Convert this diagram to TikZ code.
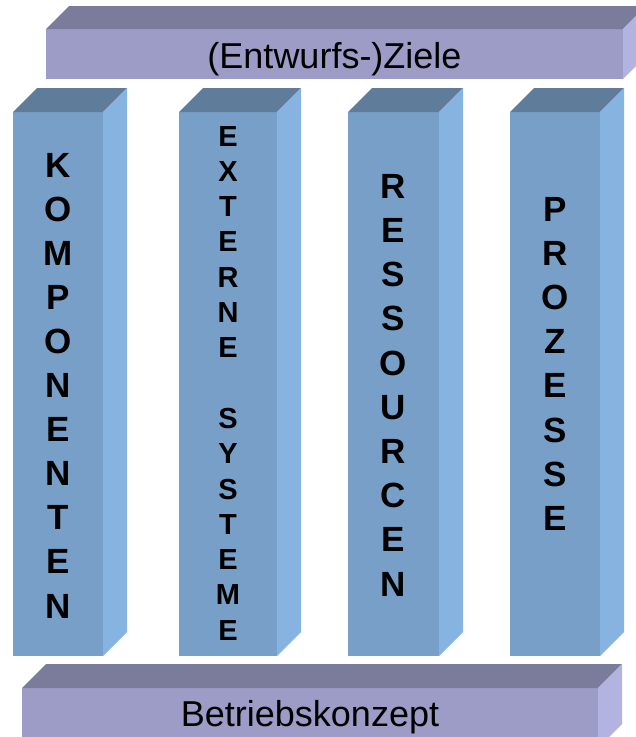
\documentclass[tikz,border=0pt]{standalone}
\usepackage{fontspec}
\setmainfont{Liberation Sans}
\definecolor{barfront}{HTML}{9C9CC6}
\definecolor{bartop}{HTML}{7B7B9B}
\definecolor{barside}{HTML}{B3B3E1}
\definecolor{colfront}{HTML}{779FC8}
\definecolor{coltop}{HTML}{5F7C9A}
\definecolor{colside}{HTML}{87B3E0}
\newcommand\prismfaces[4]{%
  \fill[#3] (#1.north west) -- (#1.north east) -- ++(#2,-#2) -- ([shift={(#2,-#2)}]#1.north west) -- cycle;
  \fill[#4] (#1.north east) -- (#1.south east) -- ++(#2,-#2) -- ([shift={(#2,-#2)}]#1.north east) -- cycle;
}
\newcommand\stackletters[6]{%
  \foreach \ch [count=\i from 0] in {#6} {
    \node[letter, font=\fontsize{#5}{#5}\selectfont\bfseries] (#1\i) at (#2, {#3+\i*#4}) {\ch};
  }}
\begin{document}
\begin{tikzpicture}[x=1pt,y=-1pt,
  face/.style={rectangle, inner sep=0pt, outer sep=0pt, anchor=north west, draw=none},
  barface/.style={face, fill=barfront},
  colface/.style={face, fill=colfront, minimum height=544pt},
  bartext/.style={anchor=base, inner sep=0pt, font=\fontsize{36}{36}\selectfont},
  letter/.style={anchor=base, inner sep=0pt}]
\useasboundingbox (0,0) rectangle (636,737);
\clip (0,0) rectangle (636,737);
\fill[white] (0,0) rectangle (636,737);
% top bar
\node[barface, minimum width=577pt, minimum height=50pt] (ziele) at (46,29) {};
\prismfaces{ziele}{23}{bartop}{barside}
\node[bartext] (zieletxt) at (334.5,68) {(Entwurfs-)Ziele};
% columns
\node[colface, minimum width=90pt] (c1) at (13,112) {};
\node[colface, minimum width=98pt] (c2) at (179,112) {};
\node[colface, minimum width=91pt] (c3) at (348,112) {};
\node[colface, minimum width=90pt] (c4) at (510,112) {};
\prismfaces{c1}{24}{coltop}{colside}
\prismfaces{c2}{24}{coltop}{colside}
\prismfaces{c3}{24}{coltop}{colside}
\prismfaces{c4}{24}{coltop}{colside}
% bottom bar
\node[barface, minimum width=576pt, minimum height=60pt] (betrieb) at (22,688) {};
\prismfaces{betrieb}{24}{bartop}{barside}
\node[bartext] (betriebtxt) at (310,726) {Betriebskonzept};
% letters
\stackletters{k}{58}{177}{44.1}{35}{K,O,M,P,O,N,E,N,T,E,N}
\stackletters{ex}{228}{146}{35.3}{29}{E,X,T,E,R,N,E}
\stackletters{sy}{228}{428.4}{35.3}{29}{S,Y,S,T,E,M,E}
\stackletters{r}{393.5}{198.3}{44.2}{35}{R,E,S,S,O,U,R,C,E,N}
\stackletters{p}{555}{221}{44.2}{35}{P,R,O,Z,E,S,S,E}
\end{tikzpicture}
\end{document}
